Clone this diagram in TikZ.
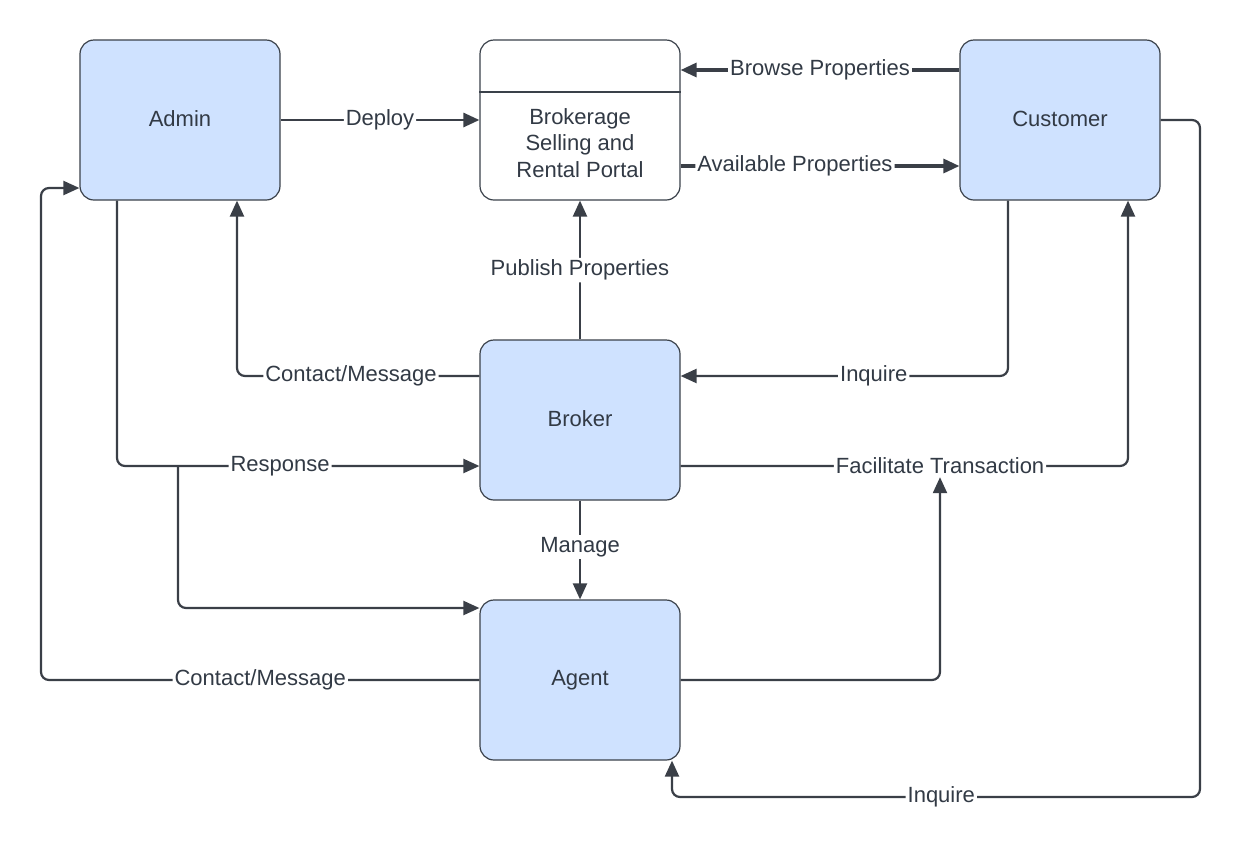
\documentclass[tikz,border=0pt]{standalone}
\usepackage{fontspec}
\setmainfont{Liberation Sans}
\usetikzlibrary{arrows.meta}
\definecolor{boxfill}{HTML}{CFE2FF}
\definecolor{boxborder}{HTML}{3A414A}
\definecolor{linecol}{HTML}{3A3F47}
\definecolor{textcol}{HTML}{323A45}
\tikzset{
  box/.style={draw=boxborder, fill=boxfill, rounded corners=7pt, minimum width=100pt, minimum height=80pt, line width=0.6pt, text=textcol, inner sep=0pt},
  wbox/.style={box, fill=white},
  conn/.style={draw=linecol, line width=1.1pt, -{Triangle[length=8pt,width=7pt]}, rounded corners=4pt},
  lab/.style={fill=white, inner sep=1pt, text=textcol}
}
\newcommand{\up}[1]{\raisebox{1.5pt}{#1}}
\begin{document}
\begin{tikzpicture}[x=0.5pt,y=-0.5pt,font=\fontsize{11}{13.2}\selectfont]
\useasboundingbox (0,0) rectangle (1242,852);
% nodes
\node[box] (admin) at (180,120) {\up{Admin}};
\node[wbox] (portal) at (580,120) {};
\node[box] (customer) at (1060,120) {\up{Customer}};
\node[box] (broker) at (580,420) {\up{Broker}};
\node[box] (agent) at (580,680) {\up{Agent}};
\draw[draw=boxborder, line width=0.6pt] (portal.west |- 0,92) -- (portal.east |- 0,92);
\node[text=textcol, align=center] (portaltext) at (580,143) {Brokerage\\Selling and\\Rental Portal};
% connectors
\draw[conn, line width=1.4pt] (admin.east) -- node[lab]{Deploy} (portal.west);
\draw[conn, line width=1.6pt] (customer.west |- 0,70) -- node[lab]{Browse Properties} (portal.east |- 0,70);
\draw[conn, line width=1.6pt] (portal.east |- 0,166) -- node[lab, pos=0.41]{Available Properties} (customer.west |- 0,166);
\draw[conn] (broker.north) -- node[lab, pos=0.5]{Publish Properties} (portal.south);
\draw[conn] (broker.west |- 0,376) -- node[lab, pos=0.53]{Contact/Message} (237,376) -- (admin.south -| 237,0);
\draw[conn] (customer.south -| 1008,0) -- (1008,376) -- node[lab, pos=0.41]{Inquire} (broker.east |- 0,376);
\draw[conn] (admin.south -| 117,0) -- (117,466) -- node[lab, pos=0.45]{Response} (broker.west |- 0,466);
\coordinate (branch) at (178,466);
\draw[conn] (branch) -- (178,608) -- (agent.west |- 0,608);
\draw[conn] (broker.east |- 0,466) -- node[lab, pos=0.58] (fac) {Facilitate Transaction} (1128,466) -- (customer.south -| 1128,0);
\draw[conn] (broker.south) -- node[lab, pos=0.47]{Manage} (agent.north);
\draw[conn] (agent.west) -- node[lab, pos=0.5]{Contact/Message} (41,680) -- (41,188) -- (admin.west |- 0,188);
\draw[conn] (agent.east) -- (940,680) -- (fac.south -| 940,0);
\draw[conn] (customer.east |- 0,120) -- (1200,120) -- (1200,797) -- node[lab, pos=0.49]{Inquire} (672,797) -- (agent.south -| 672,0);
\end{tikzpicture}
\end{document}
